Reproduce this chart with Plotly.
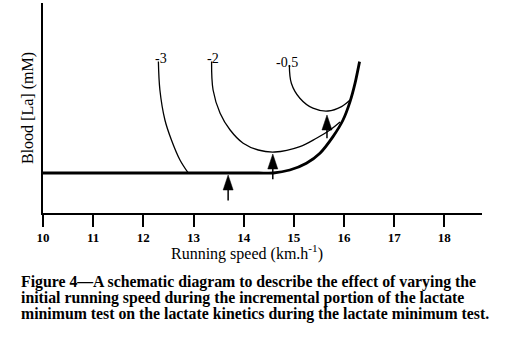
import plotly.graph_objects as go

# ---- data ----
speed_base = [10.0, 12.0, 14.3, 14.59, 14.92, 15.25, 15.52, 15.78, 15.98, 16.12, 16.22, 16.31]
la_base = [2.0, 2.0, 2.0, 2.0, 2.15, 2.49, 2.99, 3.82, 4.65, 5.57, 6.49, 7.57]

speed_m3 = [12.30, 12.33, 12.43, 12.56, 12.73, 12.89]
la_m3 = [7.57, 6.15, 4.65, 3.65, 2.65, 2.02]

speed_m2 = [13.36, 13.39, 13.53, 13.73, 13.99, 14.29, 14.62, 15.12, 15.45, 15.72, 15.92]
la_m2 = [7.57, 6.15, 4.99, 4.15, 3.49, 3.15, 3.05, 3.32, 3.74, 4.15, 4.55]

speed_m05 = [14.91, 14.95, 15.12, 15.38, 15.68, 15.95, 16.12]
la_m05 = [7.4, 6.49, 5.74, 5.24, 5.10, 5.32, 5.65]

curve_labels = ["-3", "-2", "-0.5"]

arrow_speed = [13.69, 14.58, 15.66]
arrow_tip = [1.9, 2.95, 4.9]
arrow_tail = [0.62, 1.69, 3.74]

tick_vals = [10, 11, 12, 13, 14, 15, 16, 17, 18]
tick_text = ["10", "11", "12", "13", "14", "15", "16", "17", "18"]

caption_lines = [
    "Figure 4\u2014A schematic diagram to describe the effect of varying the",
    "initial running speed during the incremental portion of the lactate",
    "minimum test on the lactate kinetics during the lactate minimum test.",
]

# ---- style constants ----
SERIF = "Liberation Serif, Times New Roman, serif"
HEAD_LEN = 0.75   # in y units
HEAD_HALF = 0.1   # in x units

fig = go.Figure()

fig.add_trace(go.Scatter(x=speed_base, y=la_base, mode="lines",
                         line=dict(color="black", width=2.8, shape="spline", smoothing=0.6),
                         hoverinfo="skip"))
for sx, sy in [(speed_m3, la_m3), (speed_m2, la_m2), (speed_m05, la_m05)]:
    fig.add_trace(go.Scatter(x=sx, y=sy, mode="lines",
                             line=dict(color="black", width=1.3, shape="spline", smoothing=1.0),
                             hoverinfo="skip"))

# arrows: stems + filled heads
for ax_, tip, tail in zip(arrow_speed, arrow_tip, arrow_tail):
    fig.add_trace(go.Scatter(x=[ax_, ax_], y=[tail, tip - HEAD_LEN], mode="lines",
                             line=dict(color="black", width=1.5), hoverinfo="skip"))
    fig.add_trace(go.Scatter(x=[ax_ - HEAD_HALF, ax_ + HEAD_HALF, ax_, ax_ - HEAD_HALF],
                             y=[tip - HEAD_LEN, tip - HEAD_LEN, tip, tip - HEAD_LEN],
                             mode="lines", fill="toself", fillcolor="black",
                             line=dict(color="black", width=0.5), hoverinfo="skip"))

# curve labels at the top of each curve
for lab, sx, sy, xs in zip(curve_labels, [speed_m3, speed_m2, speed_m05], [la_m3, la_m2, la_m05], [3, 1, -2]):
    fig.add_annotation(x=sx[0], y=sy[0], text=lab, showarrow=False,
                       xanchor="center", yanchor="middle", xshift=xs, yshift=3,
                       font=dict(family=SERIF, size=14, color="black"))

# axis titles
fig.add_annotation(x=247, y=340 - 252, xref="paper", yref="paper", text="Running speed (km.h<sup>-1</sup>)",
                   showarrow=False, xanchor="center", yanchor="middle",
                   font=dict(family=SERIF, size=16, color="black"))
fig.add_annotation(x=28, y=340 - 108, xref="paper", yref="paper", text="Blood [La] (mM)",
                   showarrow=False, xanchor="center", yanchor="middle", textangle=-90,
                   font=dict(family=SERIF, size=16, color="black"))

# caption
for i, line in enumerate(caption_lines):
    fig.add_annotation(x=19, y=340 - (282 + 16 * i), xref="paper", yref="paper",
                       text="<b>" + line + "</b>", showarrow=False,
                       xanchor="left", yanchor="middle",
                       font=dict(family=SERIF, size=15.8, color="black"))

W, H = 506, 340
L, R, T, B = 43, 24, 3, 127

fig.update_layout(
    width=W, height=H,
    margin=dict(l=L, r=R, t=T, b=B, pad=0),
    paper_bgcolor="white", plot_bgcolor="white",
    showlegend=False,
    xaxis=dict(range=[10, 18.75], tickvals=tick_vals, ticktext=tick_text,
               ticks="outside", ticklen=12, tickwidth=1.5, tickcolor="black",
               showline=True, linecolor="black", linewidth=1.5,
               showgrid=False, zeroline=False,
               tickfont=dict(family=SERIF, size=13, color="black", weight="bold")),
    yaxis=dict(range=[0, 10.5], showticklabels=False, ticks="",
               showline=True, linecolor="black", linewidth=1.5,
               showgrid=False, zeroline=False),
)

# paper-coordinate annotations above were given in pixels; convert to paper fractions
pw, ph = W - L - R, H - T - B
for ann in fig.layout.annotations:
    if ann.xref == "paper":
        ann.x = (ann.x - L) / pw
        ann.y = (ann.y - B) / ph

fig.write_html("out.html")
